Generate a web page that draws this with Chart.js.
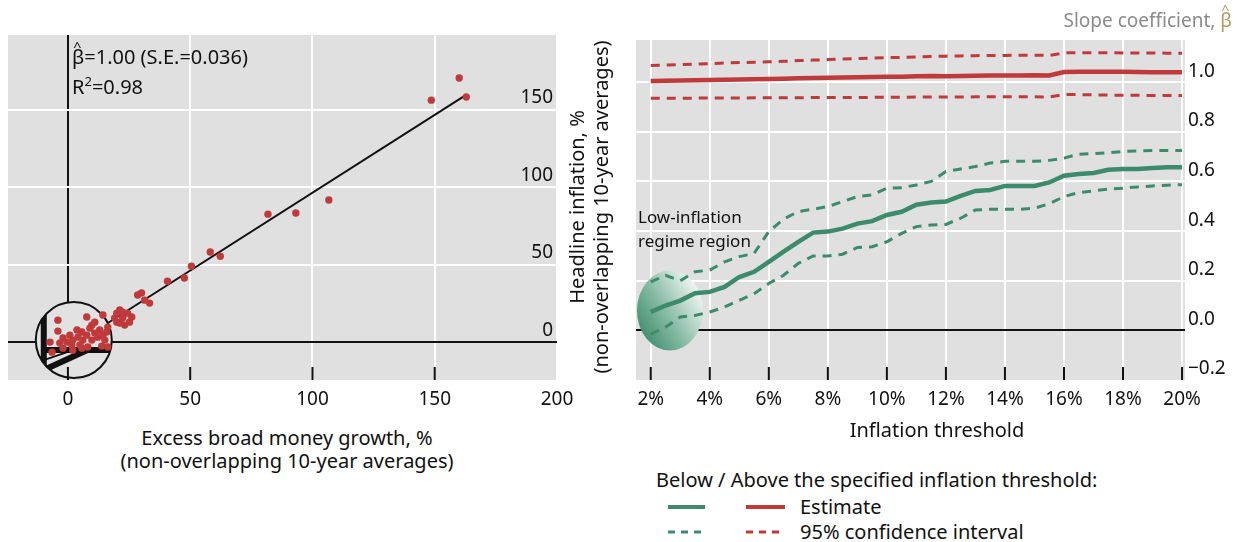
<!DOCTYPE html>
<html>
<head>
<meta charset="utf-8">
<script src="https://cdn.jsdelivr.net/npm/chart.js@4.4.1/dist/chart.umd.min.js"></script>
<style>
body{margin:0;background:#fff;font-family:"Noto Sans",sans-serif;color:#111;}
#wrap{position:relative;width:1237px;height:542px;overflow:hidden;}
.box{position:absolute;}
.t{position:absolute;font-size:20px;white-space:nowrap;line-height:20px;}
.ytitle{position:absolute;width:380px;height:48px;left:399px;top:183px;transform:rotate(-90deg);text-align:center;font-size:20px;line-height:24px;white-space:nowrap;}
.key{position:absolute;}
.bh{position:relative;display:inline-block;}
.hat{position:absolute;left:2px;top:-6px;font-size:12px;line-height:12px;transform:scaleX(1.2);}
</style>
</head>
<body>
<div id="wrap">
  <div class="box" style="left:0;top:0;width:620px;height:420px"><canvas id="left"></canvas></div>
  <div class="box" style="left:620px;top:0;width:617px;height:420px"><canvas id="right"></canvas></div>

  <div class="t" style="left:72px;top:47px"><span class="bh">β<span class="hat">^</span></span>=1.00 (S.E.=0.036)</div>
  <div class="t" style="left:72px;top:77px">R<sup style="font-size:13px;line-height:0">2</sup>=0.98</div>
  <div class="ytitle">Headline inflation, %<br>(non-overlapping 10-year averages)</div>
  <div class="t" style="left:87px;top:426px;width:400px;text-align:center;line-height:23px">Excess broad money growth, %<br>(non-overlapping 10-year averages)</div>

  <div class="t" style="right:5px;top:10px;font-size:19px;color:#8a8a8a">Slope coefficient, <span class="bh" style="color:#b39a5e">β<span class="hat">^</span></span></div>
  <div class="t" style="left:638px;top:207px;font-size:17px">Low-inflation</div>
  <div class="t" style="left:638px;top:231px;font-size:17px">regime region</div>
  <div class="t" style="left:837px;top:420px;width:200px;text-align:center">Inflation threshold</div>

  <div class="t" style="left:656px;top:470px">Below / Above the specified inflation threshold:</div>
  <svg class="key" style="left:660px;top:495px" width="140" height="45">
    <line x1="8" y1="12" x2="45" y2="12" stroke="#3c8c6c" stroke-width="4"/>
    <line x1="86" y1="12" x2="125" y2="12" stroke="#c0393b" stroke-width="4"/>
    <line x1="8" y1="37" x2="45" y2="37" stroke="#3c8c6c" stroke-width="3" stroke-dasharray="7,6"/>
    <line x1="86" y1="37" x2="125" y2="37" stroke="#c0393b" stroke-width="3" stroke-dasharray="7,6"/>
  </svg>
  <div class="t" style="left:800px;top:497px">Estimate</div>
  <div class="t" style="left:800px;top:522px">95% confidence interval</div>
</div>

<script>
// left panel: excess broad money growth vs headline inflation (%)
var moneyGrowth = [148.6, 160, 162.9, 106.7, 93.2, 81.8, 62.3, 58.2, 50.5, 47.6, 40.7, 33.4, 31.4, 30.1, 28.5,
  19.1, 20, 21.2, 22.4, 24.4, 26.1, 25.2, 23.2, 21.2, 20, 22.4,
  -4.1, -4.1, 7.7, 9.8, 11, 14.3, -7.3, -6.5, -2, -0.4, 0.8, 2, 3.7, 4.1, 5.7, 6.1, 7.7, 9, 9.8, 11, 12.2, 13, 14.3,
  15.1, 15.9, -2, 2, 5.7, 13.8, 16.3, 16.3, 4.9, 1.6, -3.3, 8.1];
var inflation = [156.4, 170.7, 158.4, 91.8, 83.4, 82.7, 55.5, 58.2, 49.1, 41.4, 39.4, 25.2, 27.1, 31.7, 30.4,
  15.5, 18.7, 20.7, 19.4, 18.7, 16.2, 12.9, 11, 12.3, 12.9, 15.5,
  14.2, 7.1, 16.2, 11, 12.9, 17.5, 0, -6.5, 2.6, 0, 4.5, 1.3, 7.8, 3.2, 6.5, 1.3, 4.5, 9, 1.3, 5.8, 3.2, 7.8, 4.5,
  1.3, 6.5, -3.9, -5.2, -3.9, -2.6, -3.2, 9.7, -1.9, -1.9, -0.6, -3.2];
var fitX = [16.5, 163];
var fitY = [12.5, 160];
var lensCenter = [2.4, 1.3];
var moneyTicks = [0, 50, 100, 150, 200];
var inflTicks = [0, 50, 100, 150];

// right panel: slope coefficient by inflation threshold (%)
var thresholds = [2, 2.5, 3, 3.5, 4, 4.5, 5, 5.5, 6, 6.5, 7, 7.5, 8, 8.5, 9, 9.5, 10, 10.5, 11, 11.5,
  12, 12.5, 13, 13.5, 14, 14.5, 15, 15.5, 16, 16.5, 17, 17.5, 18, 18.5, 19, 19.5, 20];
var lowEst = [0.074, 0.1, 0.12, 0.15, 0.155, 0.175, 0.215, 0.236, 0.276, 0.317, 0.357, 0.394, 0.398, 0.41, 0.43, 0.44,
  0.465, 0.478, 0.506, 0.515, 0.519, 0.542, 0.562, 0.566, 0.582, 0.582, 0.582, 0.596, 0.623, 0.63, 0.634, 0.647,
  0.65, 0.65, 0.654, 0.657, 0.657];
var lowUpper = [0.195, 0.222, 0.2, 0.236, 0.243, 0.276, 0.297, 0.31, 0.398, 0.448, 0.479, 0.488, 0.499, 0.519, 0.539, 0.546,
  0.573, 0.575, 0.586, 0.6, 0.64, 0.65, 0.66, 0.674, 0.681, 0.681, 0.681, 0.685, 0.694, 0.71, 0.712, 0.716,
  0.721, 0.723, 0.725, 0.725, 0.725];
var lowLower = [-0.015, 0.013, 0.054, 0.06, 0.074, 0.094, 0.121, 0.148, 0.189, 0.222, 0.27, 0.3, 0.3, 0.307, 0.334, 0.337,
  0.357, 0.391, 0.418, 0.425, 0.427, 0.452, 0.485, 0.488, 0.488, 0.488, 0.492, 0.51, 0.539, 0.555, 0.562, 0.569,
  0.573, 0.578, 0.582, 0.585, 0.587];
var highEst = [1.005, 1.006, 1.007, 1.008, 1.009, 1.01, 1.011, 1.012, 1.013, 1.014, 1.016, 1.017, 1.018, 1.019, 1.02, 1.021,
  1.022, 1.022, 1.024, 1.025, 1.024, 1.025, 1.026, 1.027, 1.027, 1.027, 1.028, 1.027, 1.041, 1.042, 1.042, 1.042,
  1.042, 1.041, 1.04, 1.04, 1.04];
var highUpper = [1.067, 1.069, 1.071, 1.073, 1.075, 1.077, 1.079, 1.08, 1.082, 1.084, 1.087, 1.089, 1.091, 1.093, 1.095, 1.097,
  1.099, 1.1, 1.102, 1.104, 1.105, 1.106, 1.107, 1.108, 1.108, 1.109, 1.109, 1.108, 1.118, 1.119, 1.119, 1.119,
  1.118, 1.118, 1.118, 1.117, 1.117];
var highLower = [0.935, 0.935, 0.935, 0.936, 0.936, 0.936, 0.936, 0.937, 0.937, 0.937, 0.937, 0.938, 0.938, 0.938, 0.938, 0.939,
  0.939, 0.939, 0.94, 0.94, 0.94, 0.94, 0.941, 0.941, 0.941, 0.941, 0.941, 0.94, 0.95, 0.95, 0.949, 0.948,
  0.947, 0.947, 0.946, 0.946, 0.946];
var regimeCenter = [2.65, 0.08];
var thresholdTicks = [2, 4, 6, 8, 10, 12, 14, 16, 18, 20];
var slopeTicks = [-0.2, 0, 0.2, 0.4, 0.6, 0.8, 1.0];

var FONT = {family: 'Noto Sans', size: 19};
var RED = '#c0393b';
var GREEN = '#3c8c6c';

function pts(xs, ys) {
  return xs.map(function(x, i) { return {x: x, y: ys[i]}; });
}

var plotBg = {
  id: 'plotBg',
  beforeDraw: function(chart) {
    var a = chart.chartArea, c = chart.ctx;
    c.save();
    c.fillStyle = '#e0e0e0';
    c.fillRect(a.left, a.top, a.right - a.left, a.bottom - a.top);
    c.restore();
  }
};

function innerTicks(values) {
  return {
    id: 'innerTicks',
    afterDatasetsDraw: function(chart) {
      var sx = chart.scales.x, a = chart.chartArea, c = chart.ctx;
      c.save();
      c.strokeStyle = '#111';
      c.lineWidth = 2;
      values.forEach(function(v) {
        var px = sx.getPixelForValue(v);
        c.beginPath();
        c.moveTo(px, a.bottom);
        c.lineTo(px, a.bottom - 13);
        c.stroke();
      });
      c.restore();
    }
  };
}

// magnifying circle round the origin
var lens = {
  id: 'lens',
  beforeDatasetsDraw: function(chart) {
    var c = chart.ctx;
    var cx = chart.scales.x.getPixelForValue(lensCenter[0]);
    var cy = chart.scales.y.getPixelForValue(lensCenter[1]);
    var r = 38;
    c.save();
    c.beginPath();
    c.arc(cx, cy, r, 0, Math.PI * 2);
    c.fillStyle = '#e2e2e2';
    c.fill();
    c.clip();
    c.strokeStyle = '#111';
    c.lineWidth = 6;
    c.beginPath(); c.moveTo(cx - 30, cy - 40); c.lineTo(cx - 30, cy + 40); c.stroke();
    c.beginPath(); c.moveTo(cx - 30, cy + 10); c.lineTo(cx + 40, cy + 10); c.stroke();
    c.beginPath(); c.moveTo(cx - 30, cy + 30); c.lineTo(cx + 18, cy + 8); c.stroke();
    c.lineWidth = 2;
    c.beginPath(); c.moveTo(cx - 30, cy + 20); c.lineTo(cx + 5, cy + 8); c.stroke();
    c.restore();
    c.save();
    c.beginPath();
    c.arc(cx, cy, r, 0, Math.PI * 2);
    c.lineWidth = 2;
    c.strokeStyle = '#111';
    c.stroke();
    c.restore();
  }
};

var regime = {
  id: 'regime',
  beforeDatasetsDraw: function(chart) {
    var c = chart.ctx;
    var cx = chart.scales.x.getPixelForValue(regimeCenter[0]);
    var cy = chart.scales.y.getPixelForValue(regimeCenter[1]);
    var rx = 33, ry = 40;
    var g = c.createLinearGradient(cx - rx, cy + ry * 0.6, cx + rx, cy - ry * 0.4);
    g.addColorStop(0, '#3a8a69');
    g.addColorStop(0.45, '#84b9a2');
    g.addColorStop(1, '#f3f7f5');
    c.save();
    c.beginPath();
    c.ellipse(cx, cy, rx, ry, 0, 0, Math.PI * 2);
    c.fillStyle = g;
    c.fill();
    c.restore();
  }
};

new Chart(document.getElementById('left'), {
  type: 'scatter',
  data: {
    datasets: [
      {
        data: pts(moneyGrowth, inflation),
        backgroundColor: RED,
        borderWidth: 0,
        pointRadius: 3.7,
        order: 0
      },
      {
        type: 'line',
        data: pts(fitX, fitY),
        borderColor: '#111',
        borderWidth: 2,
        pointRadius: 0,
        tension: 0,
        order: 1
      }
    ]
  },
  options: {
    responsive: true,
    maintainAspectRatio: false,
    animation: false,
    layout: {padding: {left: 8, top: 35, right: 63, bottom: 0}},
    plugins: {legend: {display: false}, tooltip: {enabled: false}},
    scales: {
      x: {
        type: 'linear',
        min: -24.5,
        max: 200,
        afterBuildTicks: function(s) { s.ticks = moneyTicks.map(function(v) { return {value: v}; }); },
        afterFit: function(s) { s.height = 40; },
        border: {display: false},
        grid: {
          color: function(ctx) { return ctx.tick && ctx.tick.value === 0 ? '#111' : '#fff'; },
          lineWidth: 2,
          drawTicks: false
        },
        ticks: {font: FONT, color: '#111', padding: 8, maxRotation: 0}
      },
      y: {
        position: 'right',
        min: -24.5,
        max: 198.5,
        afterBuildTicks: function(s) { s.ticks = inflTicks.map(function(v) { return {value: v}; }); },
        afterFit: function(s) { s.width = 0; },
        border: {display: false},
        grid: {
          color: function(ctx) { return ctx.tick && ctx.tick.value === 0 ? '#111' : '#fff'; },
          lineWidth: 2,
          drawTicks: false
        },
        ticks: {font: FONT, color: '#111', mirror: true, padding: -4, labelOffset: -12}
      }
    }
  },
  plugins: [plotBg, lens, innerTicks([0, 50, 100, 150])]
});

function dashed(ys, color) {
  return {data: pts(thresholds, ys), borderColor: color, borderWidth: 3, borderDash: [9, 7], pointRadius: 0, tension: 0};
}
function solid(ys, color) {
  return {data: pts(thresholds, ys), borderColor: color, borderWidth: 4.5, pointRadius: 0, tension: 0};
}

new Chart(document.getElementById('right'), {
  type: 'line',
  data: {
    datasets: [
      dashed(lowUpper, GREEN),
      dashed(lowLower, GREEN),
      solid(lowEst, GREEN),
      dashed(highUpper, RED),
      dashed(highLower, RED),
      solid(highEst, RED)
    ]
  },
  options: {
    responsive: true,
    maintainAspectRatio: false,
    animation: false,
    layout: {padding: {left: 16, top: 40, right: 7, bottom: 0}},
    plugins: {legend: {display: false}, tooltip: {enabled: false}},
    scales: {
      x: {
        type: 'linear',
        min: 1.5,
        max: 20.1,
        afterBuildTicks: function(s) { s.ticks = thresholdTicks.map(function(v) { return {value: v}; }); },
        afterFit: function(s) { s.height = 40; },
        border: {display: false},
        grid: {color: '#fff', lineWidth: 2, drawTicks: false},
        ticks: {font: FONT, color: '#111', padding: 8, maxRotation: 0, callback: function(v) { return v + '%'; }}
      },
      y: {
        position: 'right',
        min: -0.2,
        max: 1.17,
        afterBuildTicks: function(s) { s.ticks = slopeTicks.map(function(v) { return {value: v}; }); },
        afterFit: function(s) { s.width = 45; },
        border: {display: false},
        grid: {
          color: function(ctx) {
            if (!ctx.tick) return '#fff';
            if (Math.abs(ctx.tick.value) < 1e-9) return '#111';
            if (ctx.tick.value < -0.1) return 'rgba(0,0,0,0)';
            return '#fff';
          },
          lineWidth: 2,
          drawTicks: false
        },
        ticks: {
          font: FONT, color: '#111', padding: 3, labelOffset: -11,
          callback: function(v) { return (v < 0 ? '\u2212' : '') + Math.abs(v).toFixed(1); }
        }
      }
    }
  },
  plugins: [plotBg, regime, innerTicks(thresholdTicks)]
});
</script>
</body>
</html>
